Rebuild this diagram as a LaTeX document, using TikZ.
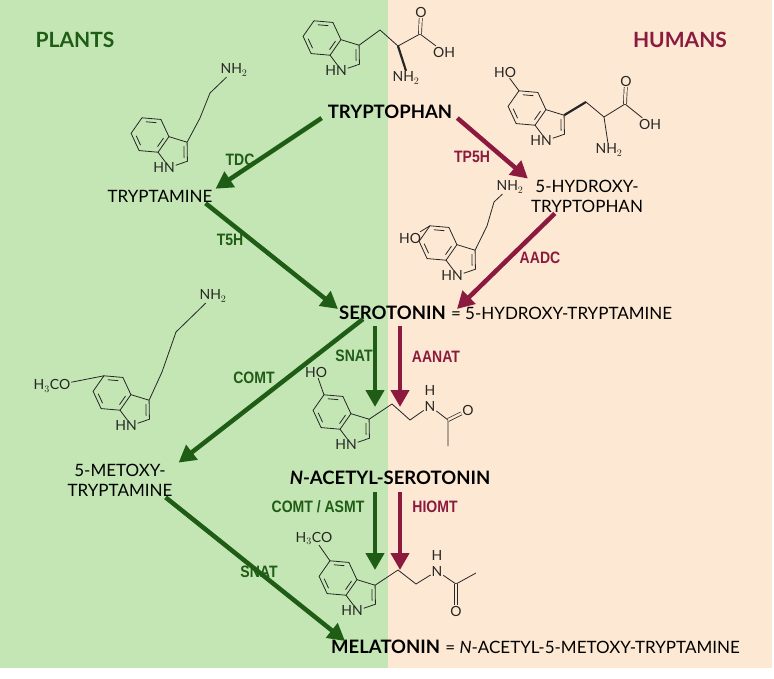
\documentclass[tikz,border=0pt]{standalone}
\usepackage{fontspec}
\setmainfont{Lato}
\newfontfamily\enz{Liberation Sans}[FakeStretch=0.85]
\usetikzlibrary{arrows.meta,calc}
\definecolor{gbg}{HTML}{C4E6B4}
\definecolor{pbg}{HTML}{FDE9D3}
\definecolor{gdk}{HTML}{1F5C16}
\definecolor{rdk}{HTML}{8B1A3E}
\tikzset{
 mol/.style={line width=0.8pt, draw=black!85},
 dbl/.style={mol, double=pbg, double distance=2.4pt, line width=0.7pt},
 atom/.style={font=\fontsize{14}{15}\selectfont, inner sep=0.8pt, text=black!85},
 lbl/.style={font=\fontsize{17}{20}\selectfont, align=center, inner sep=1pt},
 bld/.style={font=\fontsize{18.5}{20}\selectfont\bfseries, inner sep=1pt},
 enzg/.style={font=\enz\bfseries\fontsize{16.5}{18}\selectfont, text=gdk},
 enzr/.style={font=\enz\bfseries\fontsize{16.5}{18}\selectfont, text=rdk},
 garr/.style={draw=gdk, line width=4.5pt, -{Triangle[length=17pt,width=18pt]}},
 rarr/.style={draw=rdk, line width=4.5pt, -{Triangle[length=17pt,width=18pt]}},
 indole/.pic={
  \coordinate (-v1) at (0.996,0.087);
  \coordinate (-v2) at (0.574,-0.819);
  \coordinate (-v3) at (-0.423,-0.906);
  \coordinate (-v4) at (-0.996,-0.087);
  \coordinate (-v5) at (-0.574,0.819);
  \coordinate (-v6) at (0.423,0.906);
  \draw[mol] (-v1)--(-v2)--(-v3)--(-v4)--(-v5)--(-v6)--cycle;
  \draw[mol] ($(0,0)!0.78!($(-v2)!0.15!(-v3)$)$)--($(0,0)!0.78!($(-v2)!0.85!(-v3)$)$);
  \draw[mol] ($(0,0)!0.78!($(-v4)!0.15!(-v5)$)$)--($(0,0)!0.78!($(-v4)!0.85!(-v5)$)$);
  \draw[mol] ($(0,0)!0.78!($(-v6)!0.15!(-v1)$)$)--($(0,0)!0.78!($(-v6)!0.85!(-v1)$)$);
  \draw[mol] (-v1)--(1.952,0.380)--(1.970,1.380)--(1.355,1.592);
  \draw[mol] (0.813,1.426)--(-v6);
  \draw[mol] (1.790,0.583)--(1.795,1.185);
  \node[atom] at (1.024,1.706) {\llap{H}N};
  \coordinate (-c3) at (1.952,0.380);
  \coordinate (-c5) at (-v3);
 },
 ind/.style={scale=19},
}
\begin{document}
\begin{tikzpicture}[x=1pt,y=-1pt]
\useasboundingbox (0,0) rectangle (774,678);
\fill[gbg] (0,0) rectangle (388,668);
\fill[pbg] (388,0) rectangle (772,668);

\node[font=\fontsize{21}{24}\selectfont\bfseries, text=gdk] (plants) at (75,40) {PLANTS};
\node[font=\fontsize{21}{24}\selectfont\bfseries, text=rdk] (humans) at (680,40) {HUMANS};

% molecules
\pic[ind] (trp) at (322,38) {indole};
\coordinate (trpa) at (380,30); \coordinate (trpb) at (398,46); \coordinate (trpc) at (420,34);
\node[atom] (trpO) at (421,12) {O};
\node[atom] (trpOH) at (444,52) {OH};
\node[atom] (trpN) at (406,78) {NH$_2$};
\draw[mol] (trp-c3)--(trpa)--(trpb)--(trpc)--(trpOH);
\draw[dbl] (trpc)--(trpO);
\draw[line width=2.2pt, black!85] (trpb)--(trpN.north);

\pic[ind] (htp) at (527,108) {indole};
\coordinate (htpa) at (586,102); \coordinate (htpb) at (604,117); \coordinate (htpc) at (625,104);
\node[atom] (htpHO) at (505,72) {HO};
\draw[mol] (htp-c5)--(htpHO);
\node[atom] (htpO) at (626,81) {O};
\node[atom] (htpOH) at (650,124) {OH};
\node[atom] (htpN) at (609,150) {NH$_2$};
\draw[line width=2.2pt, black!85] (htp-c3)--(htpa);
\draw[mol] (htpa)--(htpb)--(htpc)--(htpOH);
\draw[dbl] (htpc)--(htpO);
\draw[mol] (htpb)--(htpN);

\pic[ind] (tpa) at (150,135) {indole};
\coordinate (tpaa) at (200,118); \coordinate (tpab) at (210,93);
\node[atom] (tpaN) at (234,70) {NH$_2$};
\draw[mol] (tpa-c3)--(tpaa)--(tpab)--(tpaN);

\pic[ind] (ser) at (438,243) {indole};
\coordinate (sera) at (487,226); \coordinate (serb) at (494,202);
\node[atom] (serHO) at (410,238) {HO};
\draw[mol] (ser-c5)--(serHO);
\node[atom] (serN) at (510,187) {NH$_2$};
\draw[mol] (ser-c3)--(sera)--(serb)--(serN);

\pic[ind] (met) at (112,393) {indole};
\coordinate (meta) at (162,372); \coordinate (metb) at (176,332);
\node[atom] (metHO) at (52,386) {H$_3$CO};
\draw[mol] (met-c5)--(metHO);
\node[atom] (metN) at (213,296) {NH$_2$};
\draw[mol] (met-c3)--(meta)--(metb)--(metN);

\pic[ind] (nas) at (332,412) {indole};
\coordinate (nasa) at (392,404); \coordinate (nasb) at (410,420); \coordinate (nasc) at (448,420);
\node[atom] (nasHO) at (316,372) {HO};
\draw[mol] (nas-c5)--(nasHO);
\node[atom] (nasN) at (430,406) {N};
\node[atom] (nasH) at (430,390) {H};
\node[atom] (nasO) at (468,410) {O};
\draw[mol] (nas-c3)--(nasa)--(nasb)--(nasN)--(nasc)--(448,446);
\draw[dbl] (nasc)--(nasO);

\pic[ind] (mel) at (338,578) {indole};
\coordinate (mela) at (398,570); \coordinate (melb) at (416,584); \coordinate (melc) at (456,584);
\node[atom] (melHO) at (314,538) {H$_3$CO};
\draw[mol] (mel-c5)--(melHO);
\node[atom] (melN) at (437,571) {N};
\node[atom] (melH) at (437,555) {H};
\node[atom] (melO) at (456,611) {O};
\draw[mol] (mel-c3)--(mela)--(melb)--(melN)--(melc)--(476,573);
\draw[dbl] (melc)--(melO);

% names
\node[bld] (ntrp) at (390,112) {TRYPTOPHAN};
\node[lbl] (ntpa) at (160,196) {TRYPTAMINE};
\node[lbl] (nhtp) at (587,196) {5-HYDROXY-\\TRYPTOPHAN};
\node[bld, anchor=west] (nser) at (338,313) {SEROTONIN};
\node[lbl, anchor=west] at (nser.east) {\,= 5-HYDROXY-TRYPTAMINE};
\node[lbl] (nmet) at (120,480) {5-METOXY-\\TRYPTAMINE};
\node[bld] (nnas) at (390,478) {\itshape N\upshape-ACETYL-SEROTONIN};
\node[bld, anchor=west] (nmel) at (330,647) {MELATONIN};
\node[lbl, anchor=west] at (nmel.east) {\,= \textit{N}-ACETYL-5-METOXY-TRYPTAMINE};

% enzymes
\node[enzg] at (240,160) {TDC};
\node[enzr] at (472,157) {TP5H};
\node[enzg] at (230,240) {T5H};
\node[enzr] at (540,258) {AADC};
\node[enzg] at (354,356) {SNAT};
\node[enzr] at (436,357) {AANAT};
\node[enzg] at (254,378) {COMT};
\node[enzg] at (318,507) {COMT / ASMT};
\node[enzr] at (435,507) {HIOMT};
\node[enzg] at (259,572) {SNAT};

% arrows
\draw[garr] ([xshift=-5pt,yshift=2pt]ntrp.south west) -- ([xshift=2pt]ntpa.north east);
\draw[rarr] ([xshift=4pt,yshift=2pt]ntrp.south east) -- ([xshift=-2pt]nhtp.north west);
\draw[garr] ([xshift=-8pt]ntpa.south east) -- ([yshift=-4pt]nser.north west);
\draw[rarr] ([xshift=25pt]nhtp.south west) -- ([xshift=10pt,yshift=-4pt]nser.north east);
\draw[garr] ([xshift=25pt,yshift=2pt]nser.south west) -- ([xshift=5pt]nmet.north east);
\draw[garr] (375,326) coordinate (g1) -- (375,407);
\draw[rarr] (400,326) coordinate (r1) -- (400,407);
\draw[garr] (375,492) coordinate (g2) -- (375,570);
\draw[rarr] (400,492) coordinate (r2) -- (400,570);
\draw[garr] ([xshift=-8pt]nmet.south east) -- ([xshift=15pt,yshift=-2pt]nmel.north west);
\end{tikzpicture}
\end{document}
